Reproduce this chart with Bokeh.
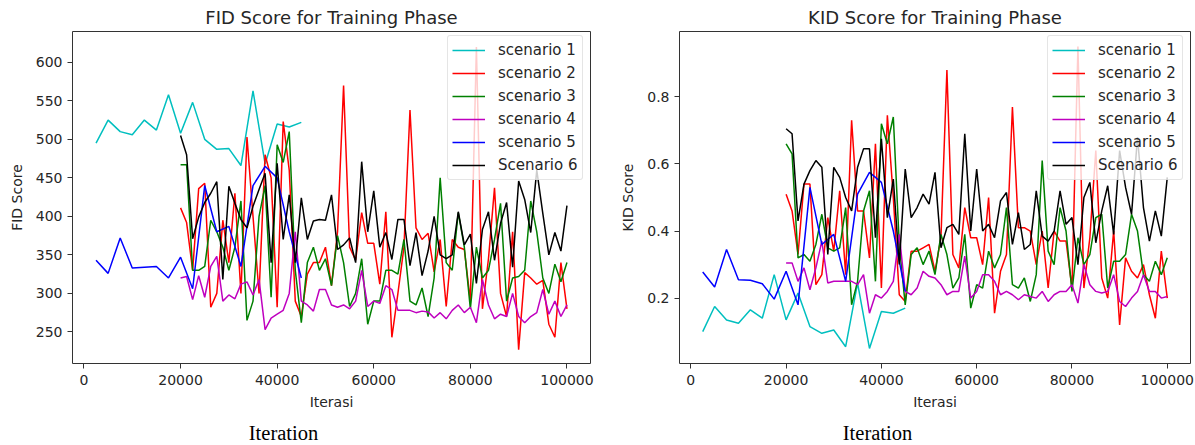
from bokeh.plotting import figure
from bokeh.layouts import row, column
from bokeh.models import Range1d, FixedTicker, Label, BasicTickFormatter
from bokeh.embed import file_html
from bokeh.resources import INLINE

# ---------------- data ----------------
iter_early = list(range(2500, 45001, 2500))      # scenarios 1 and 5
iter_late = list(range(20000, 100001, 1250))      # scenarios 2, 3, 4, 6

names = ["scenario 1", "scenario 2", "scenario 3", "scenario 4", "scenario 5", "Scenario 6"]
colors = ["#00BFBF", "#FF0000", "#008000", "#BF00BF", "#0000FF", "#000000"]

fid_s1 = [495, 525, 510, 506, 525, 512, 558, 508, 548, 500, 487, 488, 466, 563, 468, 520, 516, 522]
fid_s5 = [343, 326, 372, 333, 334, 335, 320, 347, 306, 440, 380, 387, 335, 440, 465, 450, 380, 320]
fid_s2 = [411, 392, 330, 436, 443, 282, 300, 395, 340, 430,
          300, 503, 400, 300, 480, 450, 282, 523, 460, 290,
          270, 325, 340, 340, 360, 310, 380, 570, 360, 343,
          405, 365, 365, 312, 406, 243, 300, 360, 538, 385,
          370, 378, 328, 370, 283, 370, 360, 357, 290, 620,
          280, 345, 437, 300, 270, 380, 227, 327, 320, 312,
          317, 260, 243, 340, 280]
fid_s3 = [467, 467, 330, 330, 335, 395, 380, 360, 330, 360,
          420, 265, 290, 400, 440, 295, 493, 470, 510, 330,
          262, 340, 360, 330, 345, 310, 375, 340, 283, 300,
          345, 260, 290, 290, 330, 330, 325, 370, 290, 285,
          307, 270, 320, 450, 340, 330, 405, 360, 280, 360,
          320, 330, 370, 417, 290, 320, 322, 330, 420, 380,
          320, 300, 338, 315, 340]
fid_s4 = [320, 322, 292, 323, 295, 335, 348, 290, 298, 293,
          312, 315, 298, 318, 253, 268, 273, 278, 300, 380,
          290, 285, 277, 305, 305, 285, 282, 285, 280, 290,
          330, 283, 290, 287, 310, 305, 278, 278, 278, 275,
          277, 276, 268, 275, 267, 278, 285, 275, 282, 262,
          318, 285, 267, 273, 270, 300, 270, 262, 270, 275,
          305, 273, 290, 270, 285]
fid_s6 = [505, 480, 371, 399, 418, 430, 445, 318, 439, 417,
          396, 385, 413, 435, 456, 340, 469, 370, 428, 340,
          424, 370, 394, 396, 395, 428, 357, 363, 372, 340,
          471, 380, 433, 360, 379, 344, 396, 396, 336, 379,
          323, 355, 400, 350, 345, 350, 406, 363, 377, 313,
          383, 406, 343, 391, 418, 334, 446, 422, 379, 460,
          404, 350, 379, 355, 414]

kid_s1 = [0.10, 0.175, 0.135, 0.125, 0.165, 0.14, 0.27, 0.135, 0.215, 0.115,
          0.095, 0.105, 0.055, 0.245, 0.05, 0.16, 0.155, 0.17]
kid_s5 = [0.278, 0.233, 0.345, 0.255, 0.253, 0.243, 0.197, 0.28, 0.18, 0.53,
          0.36, 0.39, 0.25, 0.51, 0.575, 0.545, 0.40, 0.22]
kid_s2 = [0.51, 0.46, 0.33, 0.54, 0.54, 0.24, 0.27, 0.44, 0.34, 0.52,
          0.27, 0.73, 0.46, 0.46, 0.32, 0.66, 0.23, 0.745, 0.50, 0.21,
          0.19, 0.34, 0.34, 0.35, 0.36, 0.28, 0.38, 0.88, 0.33, 0.29,
          0.47, 0.38, 0.38, 0.30, 0.50, 0.155, 0.28, 0.33, 0.77, 0.41,
          0.41, 0.40, 0.30, 0.40, 0.23, 0.40, 0.37, 0.37, 0.23, 0.95,
          0.23, 0.38, 0.64, 0.26, 0.20, 0.40, 0.12, 0.32, 0.28, 0.26,
          0.30, 0.21, 0.14, 0.34, 0.20]
kid_s3 = [0.66, 0.63, 0.32, 0.33, 0.31, 0.36, 0.45, 0.35, 0.34, 0.35,
          0.47, 0.18, 0.25, 0.46, 0.52, 0.25, 0.72, 0.66, 0.74, 0.36,
          0.18, 0.33, 0.35, 0.30, 0.34, 0.27, 0.39, 0.33, 0.23, 0.26,
          0.39, 0.17, 0.24, 0.23, 0.34, 0.29, 0.33, 0.47, 0.24, 0.23,
          0.26, 0.19, 0.27, 0.61, 0.34, 0.30, 0.47, 0.40, 0.22, 0.38,
          0.30, 0.33, 0.44, 0.45, 0.23, 0.31, 0.31, 0.33, 0.45, 0.40,
          0.27, 0.25, 0.31, 0.27, 0.32]
kid_s4 = [0.305, 0.305, 0.25, 0.29, 0.225, 0.29, 0.37, 0.245, 0.25, 0.25,
          0.25, 0.25, 0.24, 0.27, 0.155, 0.21, 0.20, 0.22, 0.25, 0.39,
          0.22, 0.21, 0.23, 0.28, 0.265, 0.26, 0.24, 0.21, 0.22, 0.22,
          0.325, 0.20, 0.22, 0.27, 0.27, 0.25, 0.21, 0.22, 0.21, 0.195,
          0.21, 0.205, 0.20, 0.22, 0.19, 0.21, 0.22, 0.22, 0.24, 0.185,
          0.30, 0.24, 0.22, 0.215, 0.22, 0.27, 0.19, 0.175, 0.20, 0.22,
          0.27, 0.22, 0.22, 0.20, 0.205]
kid_s6 = [0.705, 0.69, 0.43, 0.54, 0.58, 0.61, 0.59, 0.33, 0.59, 0.56,
          0.50, 0.46, 0.59, 0.645, 0.645, 0.38, 0.675, 0.44, 0.555, 0.30,
          0.585, 0.44, 0.47, 0.51, 0.48, 0.575, 0.35, 0.41, 0.42, 0.39,
          0.69, 0.40, 0.585, 0.40, 0.42, 0.38, 0.49, 0.515, 0.36, 0.455,
          0.345, 0.36, 0.52, 0.385, 0.37, 0.40, 0.52, 0.42, 0.44, 0.30,
          0.50, 0.545, 0.365, 0.46, 0.535, 0.39, 0.64, 0.53, 0.45, 0.68,
          0.47, 0.37, 0.46, 0.385, 0.56]

x_ticks = [0, 20000, 40000, 60000, 80000, 100000]
fid_ticks = [250, 300, 350, 400, 450, 500, 550, 600]
kid_ticks = [0.2, 0.4, 0.6, 0.8]
caption = "Iteration"

FONT = "DejaVu Sans"
TXT = "#262626"
MAIN_H = 414
CAP_H = 31


def make_fig(title, ylabel, series, yrange, yticks, width, border_left, border_right, legend_x):
    p = figure(width=width, height=MAIN_H, output_backend="svg", toolbar_location=None,
               x_range=Range1d(-2375, 104875), y_range=Range1d(*yrange),
               min_border_left=border_left, min_border_right=border_right,
               min_border_top=31, min_border_bottom=51)
    p.title.text = title
    p.title.align = "center"
    p.title.text_font = FONT
    p.title.text_font_size = "18px"
    p.title.text_font_style = "normal"
    p.title.text_color = TXT
    p.title.standoff = 8

    for (xs, ys), name, col in zip(series, names, colors):
        p.line(xs, ys, line_color=col, line_width=1.5, legend_label=name)

    p.grid.visible = False
    p.outline_line_color = "#333333"
    p.outline_line_width = 1
    for ax in (p.xaxis[0], p.yaxis[0]):
        ax.axis_line_color = None
        ax.major_tick_out = 5
        ax.major_tick_in = 0
        ax.minor_tick_line_color = None
        ax.major_tick_line_color = "#333333"
        ax.major_label_text_font = FONT
        ax.major_label_text_font_size = "14px"
        ax.major_label_text_color = TXT
        ax.axis_label_text_font = FONT
        ax.axis_label_text_font_size = "14px"
        ax.axis_label_text_font_style = "normal"
        ax.axis_label_text_color = TXT
    p.xaxis[0].ticker = FixedTicker(ticks=x_ticks)
    p.xaxis[0].formatter = BasicTickFormatter(use_scientific=False)
    p.xaxis[0].major_label_standoff = 6
    p.yaxis[0].ticker = FixedTicker(ticks=yticks)
    p.yaxis[0].major_label_standoff = 5
    p.xaxis[0].axis_label = "Iterasi"
    p.xaxis[0].axis_label_standoff = 6
    p.yaxis[0].axis_label = ylabel
    p.yaxis[0].axis_label_standoff = 8

    lg = p.legend[0]
    lg.location = (legend_x, 183)
    lg.padding = 4
    lg.spacing = 3
    lg.label_height = 20
    lg.glyph_height = 20
    lg.glyph_width = 33
    lg.label_standoff = 13
    lg.label_text_font = FONT
    lg.label_text_font_size = "15px"
    lg.label_text_color = TXT
    lg.border_line_color = "#cccccc"
    lg.background_fill_color = "white"
    lg.background_fill_alpha = 0.8
    lg.border_radius = 3
    return p


fid_series = [(iter_early, fid_s1), (iter_late, fid_s2), (iter_late, fid_s3),
              (iter_late, fid_s4), (iter_early, fid_s5), (iter_late, fid_s6)]
kid_series = [(iter_early, kid_s1), (iter_late, kid_s2), (iter_late, kid_s3),
              (iter_late, kid_s4), (iter_early, kid_s5), (iter_late, kid_s6)]

p1 = make_fig("FID Score for Training Phase", "FID Score", fid_series,
              (209, 640), fid_ticks, 600, 72, 10, 375)
p2 = make_fig("KID Score for Training Phase", "KID Score", kid_series,
              (0.005, 0.995), kid_ticks, 595, 79, 5, 368)

# caption strip under the two charts
cap = figure(width=1195, height=CAP_H, output_backend="svg", toolbar_location=None,
             x_range=Range1d(0, 1195), y_range=Range1d(0, CAP_H),
             x_axis_location=None, y_axis_location=None,
             min_border_left=0, min_border_right=0, min_border_top=0, min_border_bottom=0)
cap.grid.visible = False
cap.outline_line_color = None
for cx in (283, 877):
    cap.add_layout(Label(x=cx, y=13, x_units="screen", y_units="screen", text=caption,
                         text_align="center", text_baseline="middle",
                         text_font="Liberation Serif", text_font_size="20.5px",
                         text_color="black"))

layout = column(row(p1, p2), cap, spacing=0)
open("out.html", "w").write(file_html(layout, INLINE))
